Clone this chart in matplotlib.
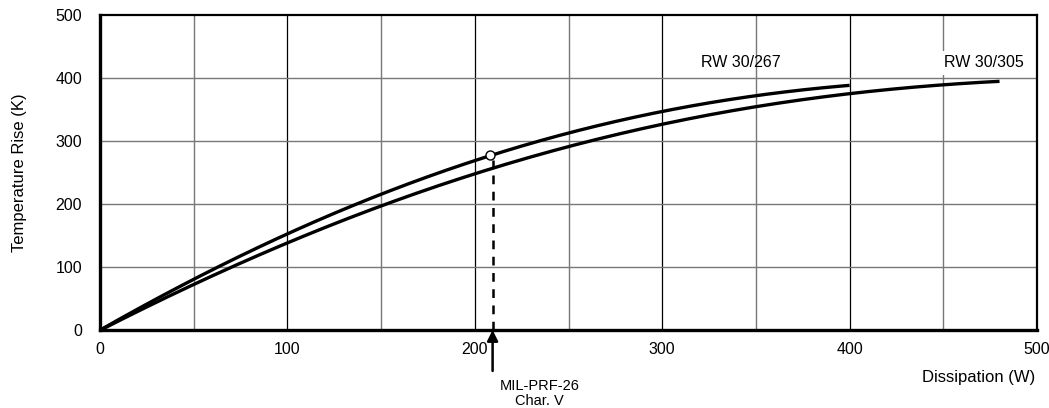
import numpy as np
import matplotlib.pyplot as plt

plt.rcParams["font.family"] = ["Liberation Sans", "DejaVu Sans"]

# Dissipation (W) vs temperature rise (K)
dissipation_267 = [0, 50, 100, 150, 200, 250, 300, 350, 400]
temp_rise_267 = [0, 80, 153, 215, 270, 312, 346, 373, 388]

dissipation_305 = [0, 50, 100, 150, 200, 250, 300, 350, 400, 450, 480]
temp_rise_305 = [0, 71, 139, 196, 250, 291, 325, 354, 376, 390, 394]

marker_point = (208, 278)
mil_char_v = 209.5

fig = plt.figure(figsize=(10.49, 4.08), dpi=100)
ax = fig.add_axes([100 / 1049, 78 / 408, 937 / 1049, 315 / 408])

x1 = np.linspace(0, 400, 200)
x2 = np.linspace(0, 480, 200)
# smooth through the read points
c1 = np.polyfit(dissipation_267, temp_rise_267, 4)
c2 = np.polyfit(dissipation_305, temp_rise_305, 4)
ax.plot(x1, np.polyval(c1, x1), color="black", lw=2.4, solid_capstyle="butt", zorder=4)
ax.plot(x2, np.polyval(c2, x2), color="black", lw=2.4, solid_capstyle="butt", zorder=4)

ax.plot([mil_char_v, mil_char_v], [0, marker_point[1] - 8], color="black",
        lw=1.8, ls=(0, (3.5, 3)), zorder=3)
ax.plot(*marker_point, "o", ms=6.5, mfc="white", mec="black", mew=1.0, zorder=5)

ax.set_xlim(0, 500)
ax.set_ylim(0, 500)
ax.set_xticks([0, 100, 200, 300, 400, 500])
ax.set_yticks([0, 100, 200, 300, 400, 500])
for x in [50, 150, 250, 350, 450]:
    ax.axvline(x, color="#777777", lw=1.0, zorder=1)
for x in [100, 200, 300, 400]:
    ax.axvline(x, color="black", lw=0.9, zorder=1)
for y in [100, 200, 300, 400]:
    ax.axhline(y, color="#777777", lw=1.0, zorder=1)

ax.tick_params(length=0, labelsize=11.5, pad=9)
ax.tick_params(axis="y", pad=13)
ax.spines["left"].set_linewidth(2.4)
ax.spines["bottom"].set_linewidth(2.4)
ax.spines["top"].set_linewidth(1.6)
ax.spines["right"].set_linewidth(1.6)

ax.set_ylabel("Temperature Rise (K)", fontsize=12, labelpad=20)
ax.text(499, -0.15, "Dissipation (W)", transform=ax.get_xaxis_transform(),
        ha="right", va="center", fontsize=12)

ax.text(342, 424, "RW 30/267", ha="center", va="center", fontsize=11.5)
ax.text(450.5, 424, "RW 30/305", ha="left", va="center", fontsize=11.5, zorder=6,
        bbox=dict(facecolor="white", edgecolor="none", pad=3))

ax.annotate("", xy=(mil_char_v, 0), xytext=(mil_char_v, -0.13),
            xycoords=("data", "axes fraction"), textcoords=("data", "axes fraction"),
            arrowprops=dict(arrowstyle="-|>", color="black", lw=1.8,
                            mutation_scale=16, shrinkA=0, shrinkB=0),
            annotation_clip=False)
ax.text(234.5, -0.155, "MIL-PRF-26\nChar. V", transform=ax.get_xaxis_transform(),
        ha="center", va="top", fontsize=10.5, linespacing=1.15)

fig.savefig("out.png", dpi=100)
